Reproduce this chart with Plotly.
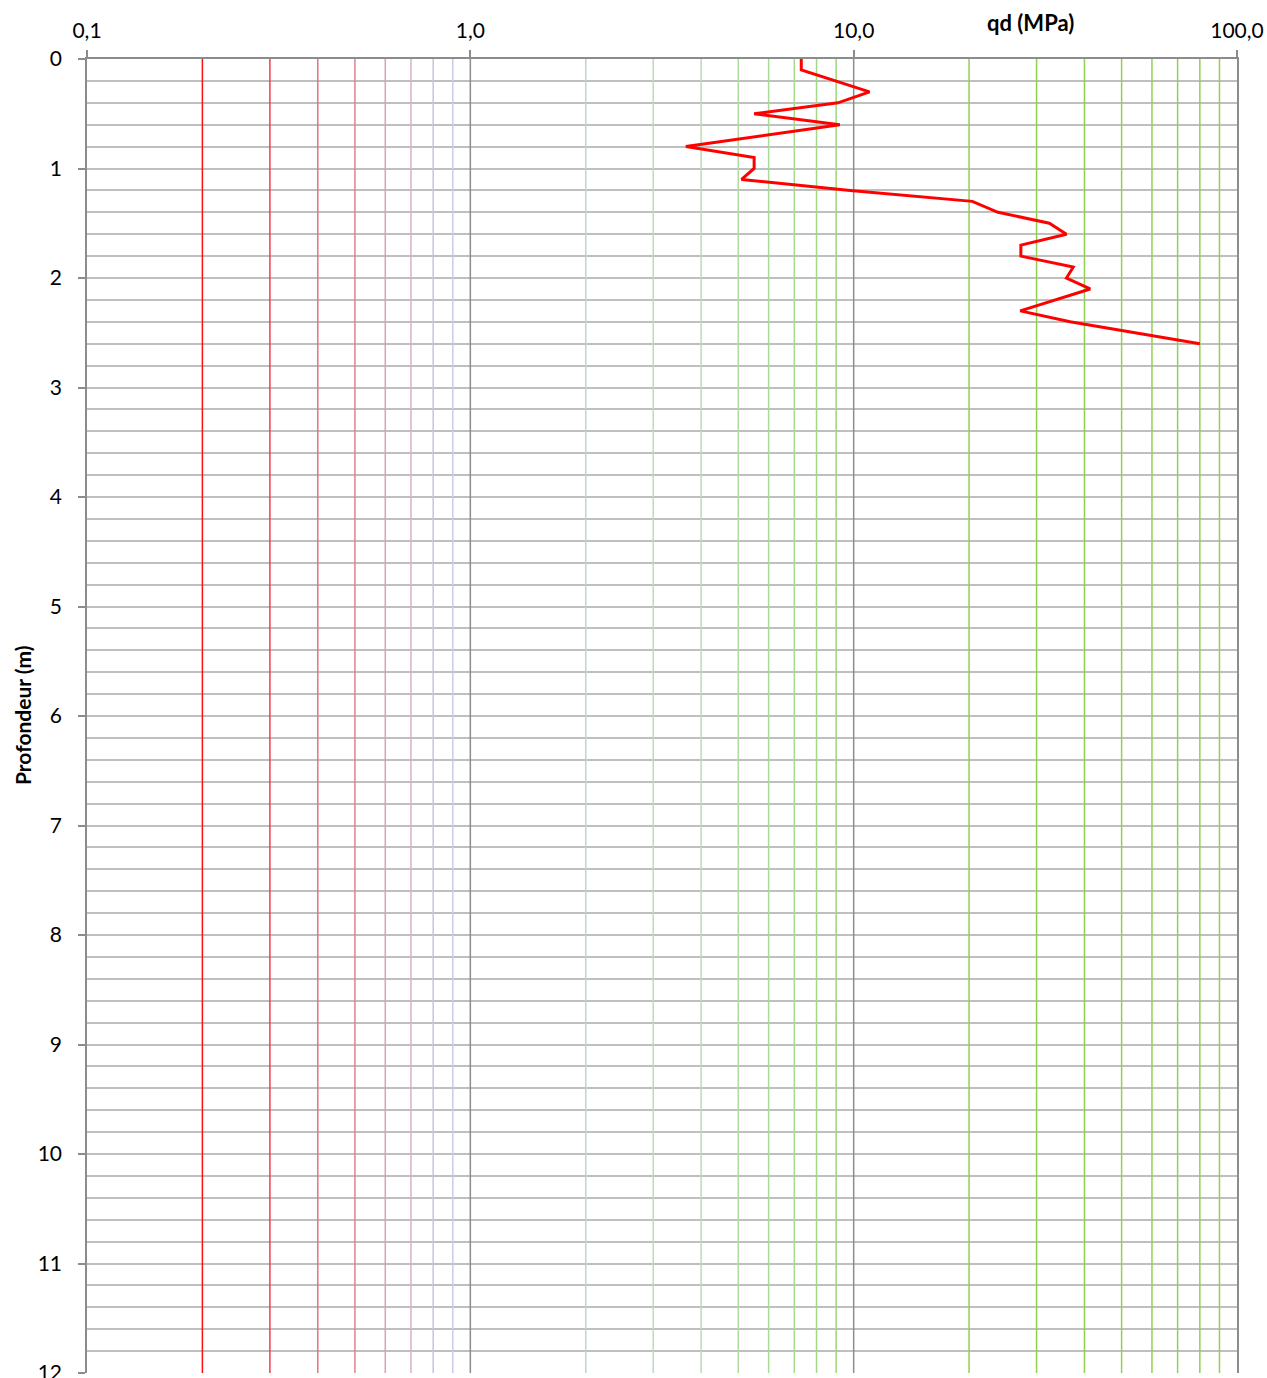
import plotly.graph_objects as go

# ---- data ----
depth_m = [0, 0.1, 0.3, 0.4, 0.5, 0.6, 0.8, 0.9, 1.0, 1.1, 1.2, 1.3, 1.4, 1.5,
           1.6, 1.7, 1.8, 1.9, 2.0, 2.1, 2.3, 2.4, 2.6]
qd_mpa = [7.3, 7.3, 11.0, 9.1, 5.5, 9.2, 3.65, 5.5, 5.5, 5.1, 9.8, 20.4, 23.8, 32.4,
          35.9, 27.3, 27.3, 37.4, 35.9, 41.4, 27.2, 36.7, 80.0]

x_tick_vals = [0.1, 1, 10, 100]
x_tick_text = ["0,1", "1,0", "10,0", "100,0"]
y_tick_vals = list(range(0, 13))

# coloured vertical reference lines (value, colour)
vline_vals = [0.2, 0.3, 0.4, 0.5, 0.6, 0.7, 0.8, 0.9,
              2, 3, 4, 5, 6, 7, 8, 9,
              20, 30, 40, 50, 60, 70, 80, 90,
              1, 10]
vline_colors = ["#FF1010", "#F0404C", "#E8707E", "#E08090", "#DCA0B4", "#D4B2CA", "#CEC0DA", "#C8CCEA",
                "#B8D8CC", "#B8DCC0", "#B4DEB0", "#ACDCA0", "#A8DC96", "#A4DC8C", "#A0DA84", "#9CD878",
                "#92D050", "#92D050", "#92D050", "#92D050", "#92D050", "#92D050", "#92D050", "#92D050",
                "#8C8C8C", "#8C8C8C"]

font_family = "Lato, 'Open Sans', sans-serif"

fig = go.Figure()

for v, c in zip(vline_vals, vline_colors):
    fig.add_trace(go.Scatter(
        x=[v, v], y=[0, 12], mode="lines",
        line=dict(color=c, width=1.5),
        hoverinfo="skip", showlegend=False))

fig.add_trace(go.Scatter(
    x=qd_mpa, y=depth_m, mode="lines",
    line=dict(color="#FF0000", width=3),
    name="qd", showlegend=False))

fig.update_layout(
    width=1267, height=1378,
    margin=dict(l=87, r=30, t=59, b=5),
    paper_bgcolor="white", plot_bgcolor="white",
    font=dict(family=font_family, size=21, color="#000000"),
    xaxis=dict(
        type="log", range=[-1, 2], side="top", automargin=False,
        tickvals=x_tick_vals, ticktext=x_tick_text,
        ticks="outside", ticklen=7, tickcolor="#8C8C8C", tickwidth=1.5,
        showgrid=False, zeroline=False,
        showline=True, linecolor="#8C8C8C", linewidth=1.5,
        ticklabelstandoff=4, ticklabeloverflow="allow",
    ),
    yaxis=dict(
        range=[12, 0], tickvals=y_tick_vals, automargin=False,
        ticks="outside", ticklen=7, tickcolor="#8C8C8C", tickwidth=1.5,
        showgrid=True, gridcolor="#BFBFBF", gridwidth=1.5,
        minor=dict(dtick=0.2, showgrid=True, gridcolor="#BFBFBF", gridwidth=1.5),
        zeroline=False,
        showline=True, linecolor="#8C8C8C", linewidth=1.5, mirror=True,
        ticklabelstandoff=12, ticklabeloverflow="allow",
    ),
    annotations=[
        dict(text="<b>qd (MPa)</b>", xref="paper", yref="paper",
             x=0.82, y=1.028, xanchor="center", yanchor="middle",
             showarrow=False, font=dict(size=22, family=font_family)),
        dict(text="<b>Profondeur (m)</b>", xref="paper", yref="paper",
             x=-0.0565, y=0.5, xanchor="center", yanchor="middle",
             textangle=-90, showarrow=False, font=dict(size=21, family=font_family)),
    ],
)

fig.write_html(
    "out.html",
    config={"displayModeBar": False},
    post_script="document.body.style.margin='0';document.body.style.overflow='hidden';",
)
